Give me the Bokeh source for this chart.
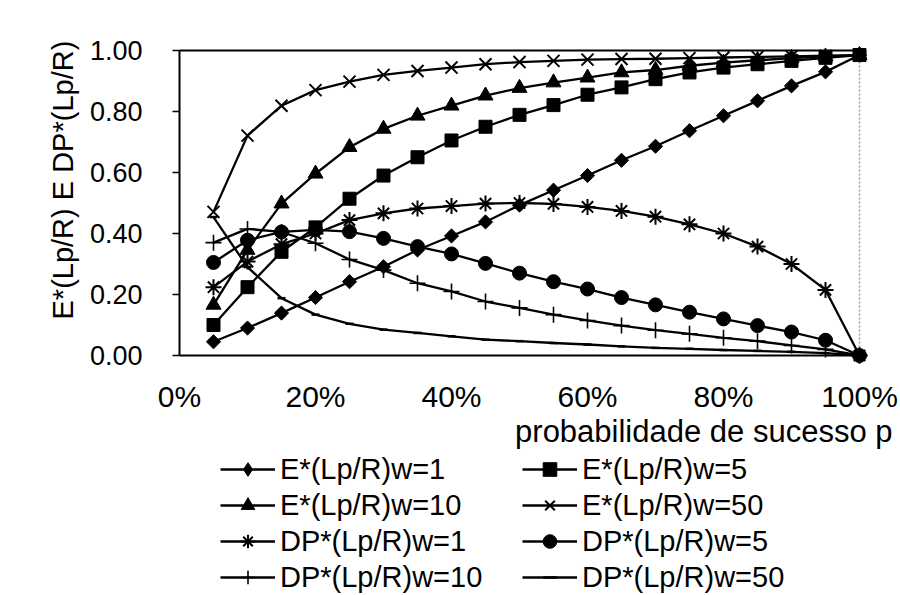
import numpy as np
from bokeh.plotting import figure
from bokeh.layouts import column
from bokeh.models import (Range1d, FixedTicker, PrintfTickFormatter, NumeralTickFormatter,
                          Legend, LegendItem, Title, LinearAxis)
from bokeh.embed import file_html
from bokeh.resources import INLINE

# ---- data ----
p_vals = [0.05, 0.10, 0.15, 0.20, 0.25, 0.30, 0.35, 0.40, 0.45, 0.50,
          0.55, 0.60, 0.65, 0.70, 0.75, 0.80, 0.85, 0.90, 0.95, 1.00]

e_w1 = [0.045, 0.090, 0.139, 0.190, 0.242, 0.291, 0.346, 0.392, 0.438, 0.493,
        0.542, 0.590, 0.640, 0.686, 0.737, 0.786, 0.835, 0.884, 0.930, 0.985]
e_w5 = [0.100, 0.224, 0.340, 0.420, 0.514, 0.590, 0.650, 0.705, 0.750, 0.789,
        0.821, 0.855, 0.879, 0.906, 0.928, 0.944, 0.955, 0.966, 0.976, 0.985]
e_w10 = [0.166, 0.346, 0.498, 0.596, 0.683, 0.743, 0.786, 0.819, 0.852, 0.877,
         0.895, 0.911, 0.928, 0.936, 0.950, 0.960, 0.968, 0.975, 0.980, 0.985]
e_w50 = [0.471, 0.721, 0.819, 0.870, 0.898, 0.920, 0.933, 0.944, 0.955, 0.962,
         0.966, 0.970, 0.972, 0.973, 0.975, 0.977, 0.979, 0.981, 0.983, 0.985]
dp_w1 = [0.224, 0.308, 0.365, 0.400, 0.444, 0.466, 0.482, 0.490, 0.498, 0.500,
         0.497, 0.487, 0.474, 0.455, 0.430, 0.400, 0.357, 0.300, 0.215, 0.000]
dp_w5 = [0.305, 0.378, 0.405, 0.412, 0.406, 0.384, 0.357, 0.333, 0.302, 0.270,
         0.242, 0.218, 0.190, 0.166, 0.142, 0.120, 0.098, 0.077, 0.050, 0.000]
dp_w10 = [0.370, 0.415, 0.405, 0.368, 0.315, 0.280, 0.237, 0.210, 0.177, 0.156,
          0.134, 0.115, 0.098, 0.083, 0.071, 0.058, 0.047, 0.033, 0.020, 0.000]
dp_w50 = [0.454, 0.290, 0.188, 0.134, 0.104, 0.085, 0.074, 0.063, 0.052, 0.047,
          0.041, 0.036, 0.030, 0.025, 0.022, 0.018, 0.015, 0.012, 0.008, 0.000]

series_names = ["E*(Lp/R)w=1", "E*(Lp/R)w=5", "E*(Lp/R)w=10", "E*(Lp/R)w=50",
                "DP*(Lp/R)w=1", "DP*(Lp/R)w=5", "DP*(Lp/R)w=10", "DP*(Lp/R)w=50"]
series_values = [e_w1, e_w5, e_w10, e_w50, dp_w1, dp_w5, dp_w10, dp_w50]

x_ticks = [0.0, 0.2, 0.4, 0.6, 0.8, 1.0]
y_ticks = [0.0, 0.2, 0.4, 0.6, 0.8, 1.0]

x_title = "probabilidade de sucesso p"
y_title = "E*(Lp/R) E DP*(Lp/R)"

# ---- styles ----
FONT = "Liberation Sans"
marker_styles = [
    dict(marker="square", size=10, angle=np.pi / 4, line_width=1),
    dict(marker="square", size=13, angle=0.0, line_width=1),
    dict(marker="triangle", size=15, angle=0.0, line_width=1),
    dict(marker="x", size=17, angle=0.0, line_width=2),
    dict(marker="asterisk", size=16, angle=0.0, line_width=2),
    dict(marker="circle", size=14, angle=0.0, line_width=1),
    dict(marker="cross", size=16, angle=0.0, line_width=1.6),
    dict(marker="dash", size=8, angle=0.0, line_width=2.5),
]
legend_marker_styles = [
    dict(marker="diamond", size=13, line_width=1),
    dict(marker="square", size=10, line_width=1),
    dict(marker="triangle", size=12, line_width=1),
    dict(marker="x", size=12, line_width=2),
    dict(marker="asterisk", size=12, line_width=2),
    dict(marker="circle", size=11, line_width=1),
    dict(marker="cross", size=13, line_width=1.6),
    dict(marker="dash", size=7, line_width=2.5),
]

# ---------------- main chart ----------------
fig = figure(width=900, height=452, output_backend="svg", toolbar_location=None,
             x_range=Range1d(0, 1), y_range=Range1d(0, 1),
             min_border_left=179, min_border_right=41,
             min_border_top=50, min_border_bottom=97)
fig.grid.visible = False
fig.outline_line_color = None
fig.background_fill_color = "white"
fig.border_fill_color = "white"

xa = fig.xaxis[0]
xa.ticker = FixedTicker(ticks=x_ticks)
xa.formatter = NumeralTickFormatter(format="0%")
xa.major_tick_out = 0
xa.major_tick_in = 0
xa.minor_tick_out = 0
xa.minor_tick_in = 0
xa.axis_line_width = 2
xa.axis_line_color = "black"
xa.major_label_text_font = FONT
xa.major_label_text_font_size = "30px"
xa.major_label_text_color = "black"
xa.major_label_standoff = 24

ya = fig.yaxis[0]
ya.ticker = FixedTicker(ticks=y_ticks)
ya.formatter = PrintfTickFormatter(format="%.2f")
ya.major_tick_out = 7
ya.major_tick_in = 0
ya.minor_tick_out = 0
ya.minor_tick_in = 0
ya.major_tick_line_width = 1.5
ya.axis_line_width = 2
ya.axis_line_color = "black"
ya.major_label_text_font = FONT
ya.major_label_text_font_size = "27px"
ya.major_label_text_color = "black"
ya.major_label_standoff = 30

# frame top (solid) and right (dotted) borders as bare axes
top_ax = LinearAxis(ticker=FixedTicker(ticks=[]), axis_line_color="black", axis_line_width=2,
                    major_tick_out=0, major_tick_in=0, minor_tick_out=0, minor_tick_in=0,
                    major_label_text_font_size="0px")
right_ax = LinearAxis(ticker=FixedTicker(ticks=[]), axis_line_color="#9a9a9a",
                      axis_line_width=1.5, axis_line_dash="2 2",
                      major_tick_out=0, major_tick_in=0, minor_tick_out=0, minor_tick_in=0,
                      major_label_text_font_size="0px")
fig.add_layout(top_ax, "above")
fig.add_layout(right_ax, "right")

for vals, st in zip(series_values, marker_styles):
    fig.line(p_vals, vals, line_color="black", line_width=2.3, level="overlay")
    fig.scatter(p_vals, vals, marker=st["marker"], size=st["size"], angle=st["angle"],
                fill_color="black", line_color="black", line_width=st["line_width"],
                level="overlay")

y_title_obj = Title(text=y_title, align="left", offset=36, standoff=16,
                    text_font=FONT, text_font_size="29px", text_font_style="normal",
                    text_color="black")
fig.add_layout(y_title_obj, "left")

x_title_obj = Title(text=x_title, align="right", offset=-33, standoff=0,
                    text_font=FONT, text_font_size="31px", text_font_style="normal",
                    text_color="black")
try:
    x_title_obj.standoff = -8
except Exception:
    pass
fig.add_layout(x_title_obj, "below")

# ---------------- legend strip ----------------
leg = figure(width=900, height=143, output_backend="svg", toolbar_location=None,
             x_range=Range1d(10, 11), y_range=Range1d(10, 11),
             x_axis_type=None, y_axis_type=None,
             min_border_left=0, min_border_right=0, min_border_top=0, min_border_bottom=0)
leg.grid.visible = False
leg.outline_line_color = None
leg.background_fill_color = "white"
leg.border_fill_color = "white"

items = []
for name, vals, st in zip(series_names, series_values, legend_marker_styles):
    lr = leg.line(p_vals, vals, line_color="black", line_width=2.3)
    sr = leg.scatter(p_vals, vals, marker=st["marker"], size=st["size"],
                     fill_color="black", line_color="black", line_width=st["line_width"])
    items.append(LegendItem(label=name, renderers=[lr, sr]))

def make_legend(its, loc):
    return Legend(items=its, location=loc, orientation="vertical",
                  padding=0, margin=0, spacing=2,
                  glyph_width=55, glyph_height=34, label_height=34, label_standoff=5,
                  label_text_font=FONT, label_text_font_size="29px",
                  label_text_color="black", label_text_baseline="middle",
                  border_line_color=None, background_fill_alpha=0)

# legend frame is aligned with the chart frame (x from 179 px)
leg.add_layout(make_legend([items[0], items[2], items[4], items[6]], (41, 1)))
leg.add_layout(make_legend([items[1], items[3], items[5], items[7]], (343, 1)))

layout = column(fig, leg, spacing=0)
open("out.html", "w").write(file_html(layout, INLINE))
